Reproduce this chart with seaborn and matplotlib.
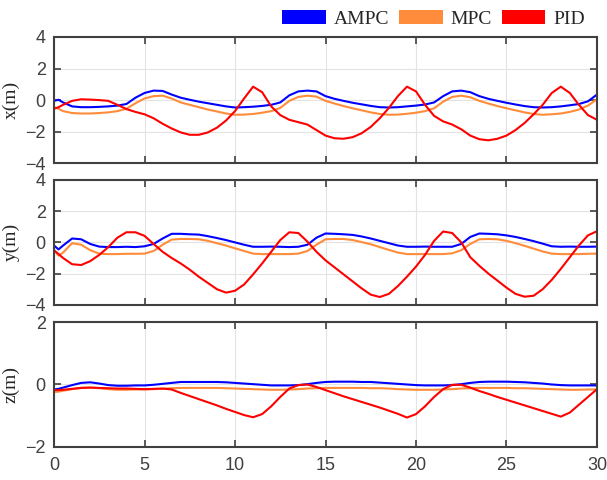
import numpy as np
import pandas as pd
import matplotlib
matplotlib.use('Agg')
import matplotlib.pyplot as plt
from matplotlib.patches import Patch
import seaborn as sns

# --- datos ---
t = [0, 0.25, 0.5, 1, 1.5, 2, 2.5, 3, 3.5, 4, 4.5, 5, 5.5, 6, 6.5, 7, 7.5, 8, 8.5, 9, 9.5,
     10, 10.5, 11, 11.5, 12, 12.5, 13, 13.5, 14, 14.5, 15, 15.5, 16, 16.5, 17, 17.5, 18, 18.5,
     19, 19.5, 20, 20.5, 21, 21.5, 22, 22.5, 23, 23.5, 24, 24.5, 25, 25.5, 26, 26.5, 27, 27.5,
     28, 28.5, 29, 29.5, 30]

metodos = ['AMPC', 'MPC', 'PID']
colores = ['#0000FF', '#FF8C3A', '#FF0000']

x_ampc = [-0.05, 0.02, -0.15, -0.4, -0.45, -0.45, -0.43, -0.4, -0.35, -0.25, 0.15, 0.45, 0.6, 0.58, 0.35,
          0.15, 0.02, -0.1, -0.2, -0.3, -0.4, -0.47, -0.45, -0.42, -0.37, -0.3, -0.15, 0.3, 0.55, 0.6,
          0.55, 0.25, 0.08, -0.05, -0.17, -0.27, -0.37, -0.45, -0.47, -0.45, -0.4, -0.35, -0.28, -0.15,
          0.25, 0.55, 0.6, 0.5, 0.25, 0.08, -0.05, -0.17, -0.28, -0.38, -0.45, -0.47, -0.45, -0.4, -0.33,
          -0.25, -0.08, 0.35]
x_mpc = [-0.45, -0.55, -0.7, -0.82, -0.85, -0.85, -0.82, -0.78, -0.7, -0.55, -0.2, 0.1, 0.25, 0.28, 0.1,
         -0.15, -0.3, -0.45, -0.6, -0.72, -0.85, -0.93, -0.92, -0.88, -0.8, -0.7, -0.5, -0.05, 0.2, 0.28,
         0.22, -0.05, -0.22, -0.38, -0.52, -0.65, -0.78, -0.88, -0.93, -0.92, -0.87, -0.8, -0.7, -0.52,
         -0.1, 0.2, 0.28, 0.18, -0.05, -0.22, -0.38, -0.52, -0.65, -0.78, -0.88, -0.93, -0.9, -0.85,
         -0.75, -0.6, -0.35, 0.05]
x_pid = [-0.55, -0.45, -0.3, -0.05, 0.05, 0.03, 0.0, -0.05, -0.3, -0.57, -0.75, -0.9, -1.15, -1.5, -1.8,
         -2.05, -2.2, -2.2, -2.05, -1.75, -1.3, -0.7, 0.1, 0.85, 0.5, -0.4, -0.95, -1.25, -1.4, -1.55,
         -1.9, -2.25, -2.42, -2.45, -2.35, -2.1, -1.7, -1.15, -0.5, 0.25, 0.85, 0.55, -0.3, -1.0, -1.35,
         -1.55, -1.85, -2.25, -2.48, -2.55, -2.45, -2.25, -1.9, -1.45, -0.9, -0.3, 0.45, 0.85, 0.45,
         -0.3, -0.95, -1.25]

y_ampc = [-0.2, -0.45, -0.2, 0.25, 0.2, -0.1, -0.27, -0.3, -0.3, -0.28, -0.3, -0.25, -0.1, 0.25, 0.55,
          0.55, 0.52, 0.5, 0.4, 0.28, 0.15, 0.0, -0.15, -0.28, -0.28, -0.27, -0.28, -0.3, -0.28, -0.15,
          0.3, 0.57, 0.55, 0.52, 0.48, 0.38, 0.25, 0.1, -0.05, -0.2, -0.28, -0.28, -0.27, -0.28, -0.28,
          -0.28, -0.1, 0.35, 0.57, 0.55, 0.52, 0.45, 0.35, 0.22, 0.08, -0.08, -0.25, -0.28, -0.27, -0.28,
          -0.28, -0.27]
y_mpc = [-0.5, -0.85, -0.65, -0.05, -0.15, -0.5, -0.72, -0.75, -0.75, -0.73, -0.73, -0.72, -0.55, -0.15,
         0.18, 0.22, 0.22, 0.2, 0.1, -0.05, -0.2, -0.38, -0.55, -0.72, -0.75, -0.75, -0.75, -0.75, -0.72,
         -0.55, -0.15, 0.2, 0.22, 0.22, 0.15, 0.02, -0.12, -0.3, -0.48, -0.65, -0.75, -0.75, -0.75, -0.75,
         -0.75, -0.7, -0.5, -0.1, 0.2, 0.22, 0.2, 0.1, -0.05, -0.22, -0.4, -0.58, -0.72, -0.75, -0.75,
         -0.75, -0.73, -0.72]
y_pid = [-0.5, -0.75, -1.0, -1.4, -1.45, -1.2, -0.8, -0.3, 0.3, 0.65, 0.65, 0.42, -0.1, -0.6, -1.0,
         -1.35, -1.75, -2.2, -2.6, -3.0, -3.22, -3.1, -2.7, -2.05, -1.35, -0.6, 0.15, 0.65, 0.6, 0.05,
         -0.6, -1.15, -1.6, -2.05, -2.5, -2.95, -3.35, -3.5, -3.3, -2.8, -2.2, -1.55, -0.8, 0.1, 0.7,
         0.6, 0.0, -0.95, -1.5, -2.0, -2.45, -2.9, -3.3, -3.48, -3.42, -3.0, -2.4, -1.7, -0.95, -0.2,
         0.45, 0.72]

z_ampc = [-0.16, -0.14, -0.1, -0.02, 0.05, 0.07, 0.03, -0.02, -0.04, -0.04, -0.03, -0.03, -0.01, 0.02,
          0.05, 0.08, 0.08, 0.08, 0.08, 0.08, 0.07, 0.05, 0.03, 0.01, -0.01, -0.03, -0.03, -0.03, -0.02,
          0.01, 0.05, 0.08, 0.09, 0.09, 0.09, 0.08, 0.08, 0.06, 0.04, 0.02, 0.0, -0.02, -0.03, -0.03,
          -0.03, -0.02, 0.01, 0.05, 0.08, 0.09, 0.09, 0.09, 0.08, 0.07, 0.05, 0.03, 0.0, -0.02, -0.03,
          -0.03, -0.03, -0.03]
z_mpc = [-0.24, -0.23, -0.2, -0.15, -0.11, -0.1, -0.12, -0.15, -0.17, -0.17, -0.16, -0.16, -0.15, -0.14,
         -0.12, -0.11, -0.11, -0.11, -0.11, -0.11, -0.12, -0.13, -0.14, -0.15, -0.16, -0.17, -0.17, -0.16,
         -0.15, -0.13, -0.12, -0.11, -0.11, -0.11, -0.11, -0.11, -0.12, -0.12, -0.13, -0.15, -0.16, -0.17,
         -0.17, -0.17, -0.16, -0.15, -0.13, -0.12, -0.11, -0.11, -0.11, -0.11, -0.12, -0.12, -0.13, -0.14,
         -0.15, -0.16, -0.17, -0.17, -0.16, -0.16]
z_pid = [-0.18, -0.18, -0.17, -0.14, -0.11, -0.1, -0.11, -0.12, -0.13, -0.13, -0.14, -0.15, -0.14, -0.13,
         -0.16, -0.27, -0.37, -0.47, -0.57, -0.67, -0.78, -0.88, -0.98, -1.05, -0.95, -0.7, -0.4, -0.13,
         -0.02, 0.0, -0.08, -0.18, -0.28, -0.38, -0.47, -0.56, -0.65, -0.74, -0.84, -0.94, -1.06, -0.95,
         -0.7, -0.4, -0.15, -0.01, -0.01, -0.1, -0.21, -0.3, -0.4, -0.49, -0.58, -0.67, -0.76, -0.85,
         -0.94, -1.03, -0.9, -0.65, -0.4, -0.15]

paneles = [
    ('x(m)', [x_ampc, x_mpc, x_pid], [-4, -2, 0, 2, 4]),
    ('y(m)', [y_ampc, y_mpc, y_pid], [-4, -2, 0, 2, 4]),
    ('z(m)', [z_ampc, z_mpc, z_pid], [-2, 0, 2]),
]

sns.set_style('ticks')
plt.rcParams['font.family'] = ['Liberation Sans', 'DejaVu Sans']

fig = plt.figure(figsize=(6.07, 4.80), dpi=100)
posiciones = [(0.089, 0.660, 0.8945, 0.263),
              (0.089, 0.365, 0.8945, 0.260),
              (0.089, 0.069, 0.8945, 0.260)]

gris = '#404040'
for i, (etiqueta, series, yticks) in enumerate(paneles):
    ax = fig.add_axes(posiciones[i])
    df = pd.DataFrame({
        't': np.tile(t, 3),
        'valor': np.concatenate(series),
        'metodo': np.repeat(metodos, len(t)),
    })
    sns.lineplot(data=df, x='t', y='valor', hue='metodo', palette=dict(zip(metodos, colores)),
                 hue_order=metodos, linewidth=1.5, legend=False, ax=ax, sort=False,
                 solid_joinstyle='round')
    ax.set_xlim(0, 30)
    ax.set_ylim(yticks[0], yticks[-1])
    ax.set_yticks(yticks)
    ax.set_xticks(range(0, 31, 5))
    ax.grid(True, color='#e3e3e3', linewidth=0.8)
    ax.set_axisbelow(True)
    ax.tick_params(direction='in', top=True, right=True, length=5, width=1.2,
                   colors=gris, labelsize=13, labelcolor=gris)
    ax.tick_params(axis='y', pad=6)
    ax.tick_params(axis='x', pad=7)
    for s in ax.spines.values():
        s.set_color(gris)
        s.set_linewidth(1.5)
    if i < 2:
        ax.set_xticklabels([])
    ax.set_xlabel('')
    ax.set_ylabel(etiqueta, family=['Liberation Serif', 'DejaVu Serif'], fontsize=14,
                  color='#262626', labelpad=4)

handles = [Patch(facecolor=c, edgecolor='none') for c in colores]
fig.legend(handles, metodos, loc='upper right', bbox_to_anchor=(0.97, 0.988), ncol=3,
           frameon=False, handlelength=2.25, handleheight=0.75, handletextpad=0.4,
           columnspacing=0.5, borderpad=0.2, borderaxespad=0,
           prop={'family': 'Liberation Serif', 'size': 14})

fig.savefig('out.png', dpi=100)
